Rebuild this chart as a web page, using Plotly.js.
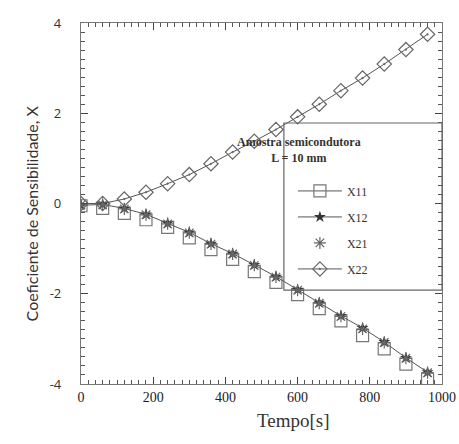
<!DOCTYPE html>
<html>
<head>
<meta charset="utf-8">
<script src="https://cdn.plot.ly/plotly-3.0.1.min.js"></script>
<style>html,body{margin:0;padding:0;background:#fff;}#chart{width:459px;height:444px;}</style>
</head>
<body>
<div id="chart"></div>
<script>
// Time points [s]
const tempo = [0, 60, 120, 180, 240, 300, 360, 420, 480, 540, 600, 660, 720, 780, 840, 900, 960];
// Sensitivity coefficients
const X11 = [-0.05, -0.11, -0.22, -0.36, -0.53, -0.76, -1.02, -1.24, -1.51, -1.75, -2.02, -2.33, -2.60, -2.93, -3.22, -3.56, -3.89];
const X12 = [-0.04, -0.02, -0.11, -0.24, -0.44, -0.64, -0.89, -1.11, -1.36, -1.62, -1.91, -2.20, -2.49, -2.76, -3.07, -3.42, -3.74];
const X21 = [-0.03, -0.03, -0.12, -0.25, -0.45, -0.65, -0.90, -1.12, -1.37, -1.63, -1.92, -2.21, -2.50, -2.78, -3.08, -3.43, -3.75];
const X22 = [0.00, 0.00, 0.10, 0.25, 0.44, 0.64, 0.88, 1.14, 1.38, 1.64, 1.92, 2.20, 2.50, 2.78, 3.09, 3.41, 3.75];
const seriesNames = ['X11', 'X12', 'X21', 'X22'];
const yTicks = [-4, -2, 0, 2, 4];
const yTickText = ['-4', '-2', '0', '2', '4'];
const xTicks = [0, 200, 400, 600, 800, 1000];

const grey = '#555';
const traces = [
  {x: tempo, y: X11, mode: 'markers', name: seriesNames[0], legendgroup: 'g1', showlegend: false,
   marker: {symbol: 'square-open', size: 12, color: '#777', line: {width: 1.2}}},
  {x: [null], y: [null], mode: 'lines+markers', name: seriesNames[0], legendgroup: 'g1',
   line: {color: grey, width: 1}, marker: {symbol: 'square-open', size: 12, color: '#777', line: {width: 1.2}}},
  {x: tempo, y: X12, mode: 'lines+markers', name: seriesNames[1], legendgroup: 'g2',
   line: {color: grey, width: 1}, marker: {symbol: 'star', size: 9, color: '#333'}},
  {x: tempo, y: X21, mode: 'markers', name: seriesNames[2], legendgroup: 'g3',
   marker: {symbol: 'asterisk-open', size: 10, color: '#666', line: {width: 1.2, color: '#666'}}},
  {x: tempo, y: X22, mode: 'lines+markers', name: seriesNames[3], legendgroup: 'g4',
   line: {color: grey, width: 1}, marker: {symbol: 'diamond-open-dot', size: 11, color: '#666', line: {width: 1.2}}}
];

const axisCommon = {
  showgrid: false, zeroline: false, showline: true, linecolor: '#777', linewidth: 1.2,
  mirror: 'allticks', ticks: 'inside', ticklen: 7, tickcolor: '#444', tickwidth: 1.3
};

const layout = {
  width: 459, height: 444,
  margin: {l: 81, r: 17, t: 23, b: 60},
  showlegend: true,
  xaxis: Object.assign({}, axisCommon, {
    range: [0, 1000], tickvals: xTicks,
    minor: {dtick: 20, ticks: 'inside', ticklen: 4, tickcolor: '#555', tickwidth: 1},
    tickfont: {family: 'Liberation Serif', size: 14, color: '#222'}
  }),
  yaxis: Object.assign({}, axisCommon, {
    range: [-4, 4], tickvals: yTicks, ticktext: yTickText,
    minor: {dtick: 0.2, ticks: 'inside', ticklen: 4, tickcolor: '#555', tickwidth: 1},
    tickfont: {family: 'Open Sans', size: 13, color: '#333'},
    ticklabelstandoff: 16
  }),
  legend: {
    x: 0.587, y: 0.575, xanchor: 'left', yanchor: 'top',
    bgcolor: 'rgba(0,0,0,0)', borderwidth: 0,
    itemwidth: 44, tracegroupgap: 7,
    font: {family: 'Liberation Serif', size: 12, color: '#333'}
  },
  shapes: [
    {type: 'rect', xref: 'paper', yref: 'paper', x0: 0.562, x1: 1, y0: 0.26, y1: 0.723,
     line: {color: '#666', width: 1.2}, fillcolor: 'rgba(0,0,0,0)', layer: 'above'}
  ],
  annotations: [
    {xref: 'paper', yref: 'paper', x: 0.781, y: 0.647, showarrow: false,
     text: '<b>Amostra semicondutora</b><br><b>L = 10 mm</b>',
     font: {family: 'Liberation Serif', size: 12, color: '#333'}},
    {xref: 'paper', yref: 'paper', x: 0.59, y: -0.136, showarrow: false,
     text: 'Tempo[s]', font: {family: 'Liberation Serif', size: 19, color: '#333'}},
    {xref: 'paper', yref: 'paper', x: -0.169, y: 0.474, showarrow: false, textangle: -90,
     text: 'Coeficiente de Sensibilidade, X', font: {family: 'Lato', size: 16, color: '#333'}}
  ]
};

Plotly.newPlot('chart', traces, layout, {displayModeBar: false});
</script>
</body>
</html>
